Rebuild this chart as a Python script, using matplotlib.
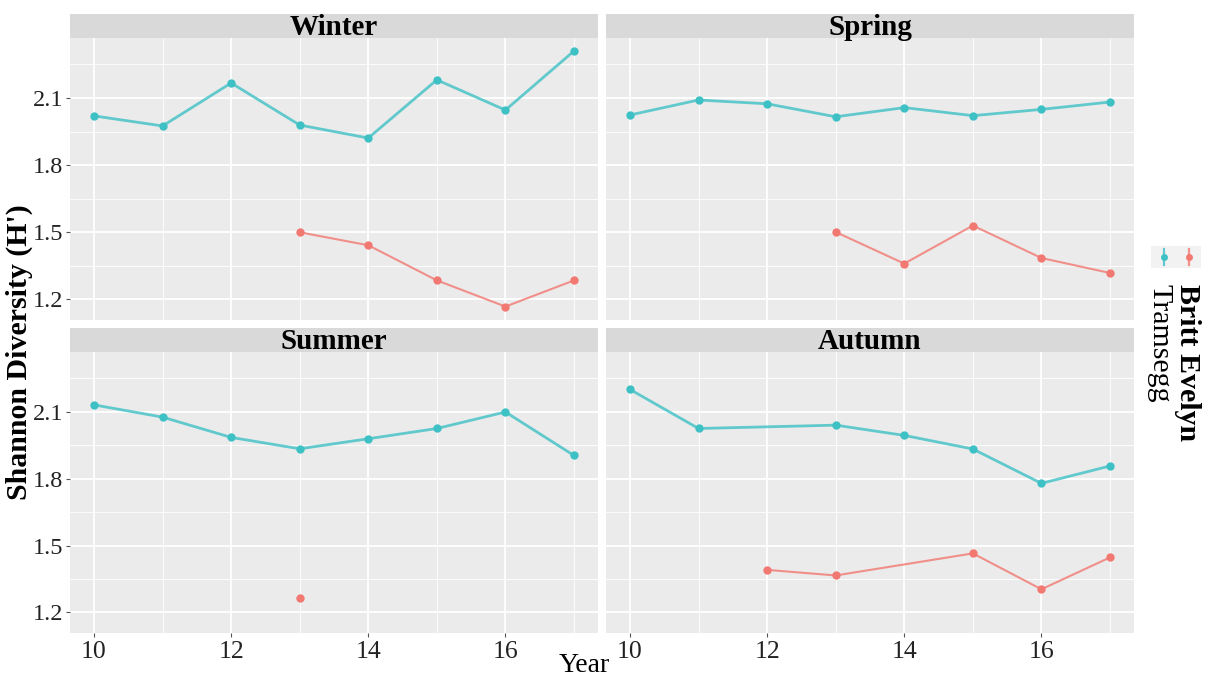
import matplotlib
matplotlib.use("Agg")
import matplotlib.pyplot as plt
import numpy as np

plt.rcParams['font.family'] = ['Liberation Serif', 'DejaVu Serif']

# Shannon diversity by season, year (2010-2017) and site
seasons = ['Winter', 'Spring', 'Summer', 'Autumn']

winter_tramsegg_years = [10, 11, 12, 13, 14, 15, 16, 17]
winter_tramsegg = [2.02, 1.975, 2.167, 1.979, 1.921, 2.181, 2.046, 2.31]
winter_britt_years = [13, 14, 15, 16, 17]
winter_britt = [1.50, 1.442, 1.285, 1.168, 1.285]

spring_tramsegg_years = [10, 11, 12, 13, 14, 15, 16, 17]
spring_tramsegg = [2.024, 2.091, 2.074, 2.016, 2.057, 2.021, 2.049, 2.082]
spring_britt_years = [13, 14, 15, 16, 17]
spring_britt = [1.501, 1.36, 1.53, 1.385, 1.318]

summer_tramsegg_years = [10, 11, 12, 13, 14, 15, 16, 17]
summer_tramsegg = [2.131, 2.076, 1.985, 1.934, 1.979, 2.025, 2.099, 1.904]
summer_britt_years = [13]
summer_britt = [1.266]

autumn_tramsegg_years = [10, 11, 13, 14, 15, 16, 17]
autumn_tramsegg = [2.2, 2.025, 2.04, 1.994, 1.933, 1.779, 1.857]
autumn_britt_years = [12, 13, 15, 16, 17]
autumn_britt = [1.391, 1.366, 1.465, 1.304, 1.447]

series = {
    'Winter': [(winter_britt_years, winter_britt, 'Britt Evelyn'),
               (winter_tramsegg_years, winter_tramsegg, 'Tramsegg')],
    'Spring': [(spring_britt_years, spring_britt, 'Britt Evelyn'),
               (spring_tramsegg_years, spring_tramsegg, 'Tramsegg')],
    'Summer': [(summer_britt_years, summer_britt, 'Britt Evelyn'),
               (summer_tramsegg_years, summer_tramsegg, 'Tramsegg')],
    'Autumn': [(autumn_britt_years, autumn_britt, 'Britt Evelyn'),
               (autumn_tramsegg_years, autumn_tramsegg, 'Tramsegg')],
}
site_colors = {'Britt Evelyn': '#F27872', 'Tramsegg': '#3EC1C5'}
site_lw = {'Britt Evelyn': 1.5, 'Tramsegg': 2.0}

x_major = [10, 12, 14, 16]
x_minor = [11, 13, 15, 17]
y_major = [1.2, 1.5, 1.8, 2.1]
y_minor = [1.35, 1.65, 1.95, 2.25]

W, H = 1211, 677
fig = plt.figure(figsize=(W / 100, H / 100), dpi=100)


def fx(px):
    return px / W


def fy(py):
    return 1 - py / H


# panel boxes in pixels: (left, top, right, bottom)
boxes = {
    'Winter': (70, 38, 598, 320),
    'Spring': (606, 38, 1134, 320),
    'Summer': (70, 352, 598, 633),
    'Autumn': (606, 352, 1134, 633),
}

for i, season in enumerate(seasons):
    l, t, r, b = boxes[season]
    ax = fig.add_axes([fx(l), fy(b), fx(r - l), (b - t) / H])
    ax.set_facecolor('#EBEBEB')
    for s in ax.spines.values():
        s.set_visible(False)
    ax.set_xlim(9.65, 17.35)
    ax.set_ylim(1.108, 2.368)
    ax.set_xticks(x_major)
    ax.set_xticks(x_minor, minor=True)
    ax.set_yticks(y_major)
    ax.set_yticks(y_minor, minor=True)
    ax.grid(which='major', color='white', lw=1.3)
    ax.grid(which='minor', color='white', lw=0.6)
    ax.set_axisbelow(True)
    ax.tick_params(which='minor', length=0)
    ax.tick_params(which='major', length=3, width=0.8, color='#555555',
                   labelsize=17.5, labelcolor='#222222', pad=2)
    if i % 2 == 1:
        ax.tick_params(axis='y', length=0, labelleft=False)
    else:
        ax.set_yticklabels([f'{v:.1f}' for v in y_major])
    if i < 2:
        ax.tick_params(axis='x', length=0, labelbottom=False)
    else:
        ax.tick_params(axis='x', pad=3, labelsize=18.5)

    for years, vals, site in series[season]:
        c = site_colors[site]
        ax.plot(years, vals, color=c, lw=site_lw[site], alpha=0.8,
                solid_capstyle='round', zorder=2)
        ax.plot(years, vals, 'o', color=c, ms=6, mec='none', zorder=3)

    # facet strip
    sax = fig.add_axes([fx(l), fy(t), fx(r - l), 24 / H])
    sax.set_facecolor('#D9D9D9')
    sax.set_xticks([])
    sax.set_yticks([])
    for s in sax.spines.values():
        s.set_visible(False)
    sax.text(0.5, 0.45, season, ha='center', va='center', fontsize=21,
             fontweight='bold', transform=sax.transAxes)

fig.text(fx(19), fy(352), "Shannon Diversity (H')", rotation=90,
         ha='center', va='center', fontsize=21.5, fontweight='bold')
fig.text(fx(584), fy(666), 'Year', ha='center', va='center', fontsize=20)

# legend keys, drawn vertically to the right of the panels
lax = fig.add_axes([fx(1151), fy(268), fx(50), 22 / H])
lax.set_facecolor('#F2F2F2')
lax.set_xlim(0, 2)
lax.set_ylim(0, 1)
lax.set_xticks([])
lax.set_yticks([])
for s in lax.spines.values():
    s.set_visible(False)
for kx, site in [(0.5, 'Tramsegg'), (1.5, 'Britt Evelyn')]:
    lax.plot([kx, kx], [0.12, 0.88], color=site_colors[site], lw=1.6, alpha=0.8)
    lax.plot([kx], [0.5], 'o', color=site_colors[site], ms=5, mec='none')

fig.text(fx(1188), fy(284), 'Britt Evelyn', rotation=270, ha='center',
         va='top', fontsize=21.5, fontweight='bold')
fig.text(fx(1159), fy(284), 'Tramsegg', rotation=270, ha='center',
         va='top', fontsize=21.5)

fig.savefig('out.png', dpi=100, facecolor='white')
